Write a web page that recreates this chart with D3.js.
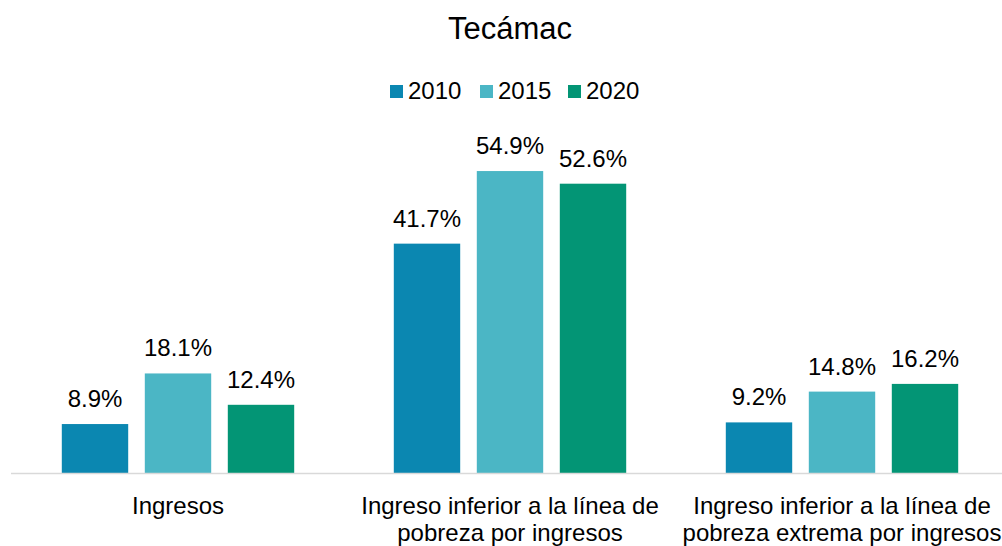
<!DOCTYPE html>
<html>
<head>
<meta charset="utf-8">
<script src="https://cdn.jsdelivr.net/npm/d3@7"></script>
<style>
  html, body { margin: 0; padding: 0; background: #fff; }
  svg { display: block; font-family: "Liberation Sans", Arial, sans-serif; }
</style>
</head>
<body>
<svg id="chart" width="1002" height="546"></svg>
<script>
// Pobreza por ingresos en Tecámac, 2010-2020 (%)
const title = "Tecámac";
const categories = ["Ingresos", "Ingreso inferior a la línea de pobreza por ingresos", "Ingreso inferior a la línea de pobreza extrema por ingresos"];
const categoryLines = [
  ["Ingresos"],
  ["Ingreso inferior a la línea de", "pobreza por ingresos"],
  ["Ingreso inferior a la línea de", "pobreza extrema por ingresos"]
];
const years = ["2010", "2015", "2020"];
const values2010 = [8.9, 41.7, 9.2];
const values2015 = [18.1, 54.9, 14.8];
const values2020 = [12.4, 52.6, 16.2];
const colors = ["#0B87B1", "#4BB6C5", "#039575"];

const seriesValues = [values2010, values2015, values2020];
const rows = categories.map((c, i) => ({
  category: c,
  lines: categoryLines[i],
  bars: years.map((y, j) => ({ year: y, value: seriesValues[j][i] }))
}));

const svg = d3.select("#chart");
const baseY = 473;

const x0 = d3.scaleBand()
  .domain(categories)
  .range([12, 1008])
  .paddingInner(0.3)
  .paddingOuter(0.15);

const x1 = d3.scaleBand()
  .domain(years)
  .range([0, x0.bandwidth()])
  .paddingInner(0.2)
  .paddingOuter(0);

const y = d3.scaleLinear().domain([0, 60]).range([baseY, baseY - 330]);
const color = d3.scaleOrdinal().domain(years).range(colors);

// Title
svg.append("text")
  .attr("x", 510)
  .attr("y", 39)
  .attr("text-anchor", "middle")
  .attr("font-size", 31)
  .attr("fill", "#000")
  .text(title);

// Legend
const legendX = [390, 480, 568];
const legend = svg.append("g");
years.forEach((yr, i) => {
  const g = legend.append("g").attr("transform", `translate(${legendX[i]},0)`);
  g.append("rect").attr("x", 0).attr("y", 85).attr("width", 13).attr("height", 13).attr("fill", color(yr));
  g.append("text").attr("x", 18).attr("y", 98.5).attr("font-size", 24).attr("fill", "#000").text(yr);
});

// Bars and value labels
const groups = svg.append("g").selectAll("g")
  .data(rows)
  .join("g")
  .attr("transform", d => `translate(${x0(d.category)},0)`);

groups.selectAll("rect")
  .data(d => d.bars)
  .join("rect")
  .attr("x", d => x1(d.year))
  .attr("y", d => y(d.value))
  .attr("width", x1.bandwidth())
  .attr("height", d => baseY - y(d.value))
  .attr("fill", d => color(d.year));

groups.selectAll("text.val")
  .data(d => d.bars)
  .join("text")
  .attr("class", "val")
  .attr("x", d => x1(d.year) + x1.bandwidth() / 2)
  .attr("y", d => y(d.value) - 17)
  .attr("text-anchor", "middle")
  .attr("font-size", 24)
  .attr("fill", "#000")
  .text(d => d.value.toFixed(1) + "%");

// Baseline axis
svg.append("line")
  .attr("x1", 11).attr("x2", 1002)
  .attr("y1", baseY + 0.5).attr("y2", baseY + 0.5)
  .attr("stroke", "#d9d9d9").attr("stroke-width", 1.5);

// Category labels
rows.forEach(r => {
  const t = svg.append("text")
    .attr("text-anchor", "middle")
    .attr("font-size", 24)
    .attr("fill", "#000");
  r.lines.forEach((ln, k) => {
    t.append("tspan")
      .attr("x", x0(r.category) + x0.bandwidth() / 2)
      .attr("y", 514 + k * 27)
      .text(ln);
  });
});
</script>
</body>
</html>
